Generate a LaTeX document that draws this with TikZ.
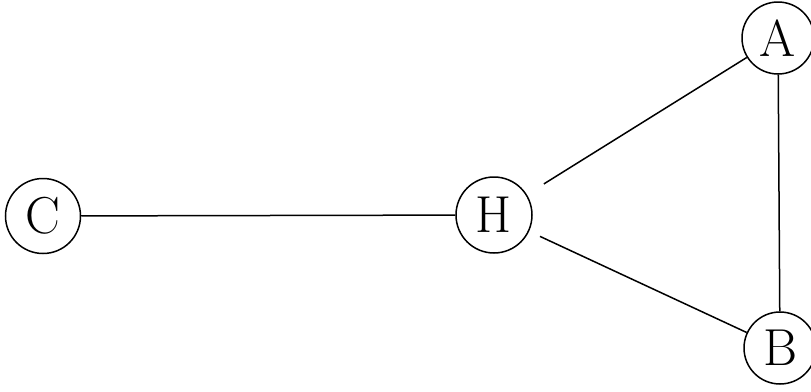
\documentclass[tikz,border=0pt]{standalone}
\begin{document}
\begin{tikzpicture}[x=1pt,y=-1pt,
  vert/.style={circle,draw,line width=1.5pt,minimum size=72pt,inner sep=0pt,font=\fontsize{52}{52}\selectfont},
  edge/.style={line width=1.5pt}]
\useasboundingbox[fill=white] (0,0) rectangle (811,391);
\node[vert] (A) at (778,38) {A};
\node[vert] (B) at (780,348) {B};
\node[vert,minimum size=76pt] (H) at (494,215) {H};
\node[vert,minimum size=75pt] (C) at (43,216) {C};
\draw[edge] (C) -- (H);
\draw[edge,shorten <=20pt] (H) -- (A);
\draw[edge,shorten <=12pt] (H) -- (B);
\draw[edge] (A) -- (B);
\end{tikzpicture}
\end{document}
